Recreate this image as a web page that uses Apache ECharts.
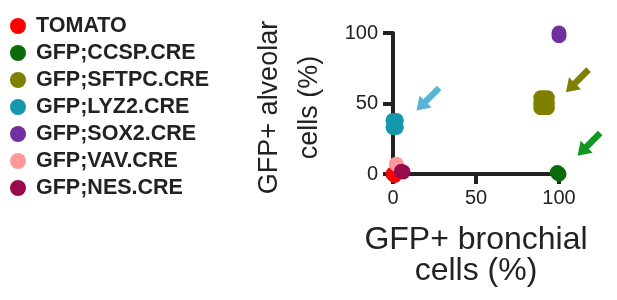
<!DOCTYPE html>
<html>
<head>
<meta charset="utf-8">
<script src="https://cdn.jsdelivr.net/npm/echarts@6/dist/echarts.min.js"></script>
<style>
  html, body { margin: 0; padding: 0; background: #fff; }
  #main { width: 617px; height: 300px; }
</style>
</head>
<body>
<div id="main"></div>
<script>
// legend / series names
var seriesNames = ['TOMATO', 'GFP;CCSP.CRE', 'GFP;SFTPC.CRE', 'GFP;LYZ2.CRE', 'GFP;SOX2.CRE', 'GFP;VAV.CRE', 'GFP;NES.CRE'];
var seriesColors = ['#ff0000', '#0b6b0b', '#7f7f00', '#1598ad', '#7030a0', '#ff9999', '#990a4c'];

// [bronchial %, alveolar %] per animal
var tomatoData = [[0, 0], [1, -1]];
var ccspData = [[100, 0], [99, 1]];
var sftpcData = [[89, 47], [89, 50], [89, 54], [93, 47], [93, 50], [93, 54], [91, 47], [91, 54]];
var lyz2Data = [[0, 33], [0, 38], [2, 33], [2, 38]];
var sox2Data = [[100, 100], [100, 98]];
var vavData = [[2, 7]];
var nesData = [[6, 1.5], [5, 2]];

var allData = [tomatoData, ccspData, sftpcData, lyz2Data, sox2Data, vavData, nesData];

// arrows pointing at groups
var arrowData = [[21, 53], [111, 66], [118, 21]];
var arrowColors = ['#5ab4d6', '#7f7f00', '#12961f'];

// axis range / ticks
var axisMin = 0;
var axisMax = 100;
var tickStep = 50;

var arrowPath = 'path://M5,12 L5,30 L11,30 L11,12 L16,12 L8,0 L0,12 Z';

var myChart = echarts.init(document.getElementById('main'));

var series = [];
for (var i = 0; i < seriesNames.length; i++) {
    series.push({
        name: seriesNames[i],
        type: 'scatter',
        data: allData[i],
        symbol: 'circle',
        symbolSize: 15,
        clip: false,
        z: 5,
        itemStyle: { color: seriesColors[i], opacity: 1 }
    });
}
for (var k = 0; k < arrowData.length; k++) {
    series.push({
        name: 'arrow' + k,
        type: 'scatter',
        data: [arrowData[k]],
        symbol: arrowPath,
        symbolSize: [17, 32],
        symbolKeepAspect: false,
        symbolRotate: 135,
        clip: false,
        silent: true,
        itemStyle: { color: arrowColors[k], opacity: 1 }
    });
}

var option = {
    animation: false,
    legend: {
        data: seriesNames,
        orient: 'vertical',
        left: 5,
        top: 10,
        icon: 'circle',
        itemWidth: 26,
        itemHeight: 16,
        itemGap: 5,
        textStyle: {
            fontFamily: 'Liberation Sans',
            fontSize: 21.5,
            fontWeight: 'bold',
            color: '#222',
            lineHeight: 21
        }
    },
    grid: {
        left: 393,
        right: 58,
        top: 33,
        bottom: 126
    },
    xAxis: {
        type: 'value',
        min: axisMin,
        max: axisMax,
        interval: tickStep,
        name: 'GFP+ bronchial\ncells (%)',
        nameLocation: 'middle',
        nameGap: 51,
        nameTextStyle: { fontFamily: 'Liberation Sans', fontSize: 32, color: '#222', lineHeight: 31 },
        axisLine: { show: true, lineStyle: { color: '#222', width: 4 } },
        axisTick: { show: true, length: 10, lineStyle: { color: '#222', width: 4 } },
        axisLabel: { fontFamily: 'Liberation Sans', fontSize: 20, color: '#222', margin: 14 },
        splitLine: { show: false }
    },
    yAxis: {
        type: 'value',
        min: axisMin,
        max: axisMax,
        interval: tickStep,
        name: 'GFP+ alveolar\ncells (%)',
        nameLocation: 'middle',
        nameGap: 63,
        nameTextStyle: { fontFamily: 'Liberation Sans', fontSize: 27, color: '#222', lineHeight: 40, padding: [0, 8, 0, 0] },
        axisLine: { show: true, lineStyle: { color: '#222', width: 4 } },
        axisTick: { show: true, length: 10, lineStyle: { color: '#222', width: 4 } },
        axisLabel: { fontFamily: 'Liberation Sans', fontSize: 20, color: '#222', margin: 15 },
        splitLine: { show: false }
    },
    series: series
};

myChart.setOption(option);
</script>
</body>
</html>
